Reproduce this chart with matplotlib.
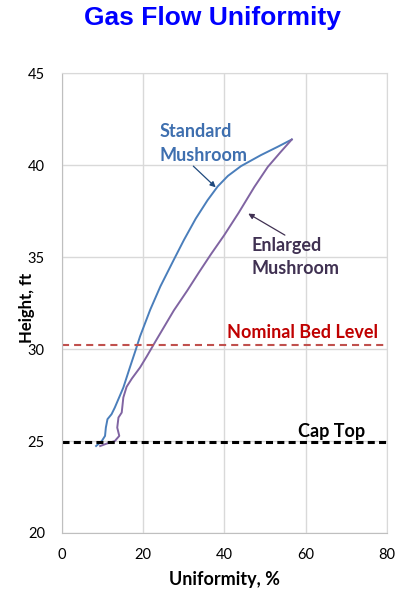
import matplotlib
matplotlib.use("Agg")
import matplotlib.pyplot as plt

# Standard mushroom (uniformity %, height ft)
std_x = [8.5, 9.9, 10.7, 10.9, 11.3, 12.3, 13.1, 15.2, 16.8, 18.3, 19.3, 21.8, 24.3, 27.6,
         30.1, 33.0, 35.9, 38.4, 40.9, 44.1, 49.0, 53.1, 56.6]
std_y = [24.73, 25.0, 25.28, 25.73, 26.19, 26.46, 26.82, 27.91, 29.0, 30.0, 30.69, 32.14, 33.41, 34.86,
         35.94, 37.1, 38.1, 38.85, 39.42, 39.95, 40.55, 41.0, 41.4]
# Enlarged mushroom
enl_x = [9.5, 11.1, 13.1, 14.2, 13.7, 14.0, 14.8, 15.2, 16.0, 17.3, 19.3, 21.0, 23.1, 27.6, 30.9,
         33.8, 36.7, 40.0, 43.5, 47.4, 50.7, 53.9, 56.6]
enl_y = [24.73, 24.86, 25.0, 25.28, 25.73, 26.28, 26.55, 27.37, 27.95, 28.4, 29.0, 29.62, 30.42, 32.1, 33.18,
         34.18, 35.15, 36.2, 37.4, 38.82, 39.91, 40.73, 41.4]

bed_level = 30.2
cap_top = 24.93

fig = plt.figure(figsize=(4.0, 5.92), dpi=100)
ax = fig.add_axes([61.5/400, 1-533/592, (387-61.5)/400, (533-73.3)/592])

lab_font = ['Lato', 'DejaVu Sans']

ax.plot(std_x, std_y, color='#4A7EBB', lw=1.4, solid_joinstyle='round')
ax.plot(enl_x, enl_y, color='#8064A2', lw=1.4, solid_joinstyle='round')
ax.axhline(bed_level, color='#C0504D', lw=1.5, ls=(0, (3.4, 2.4)))
ax.axhline(cap_top, color='black', lw=2.2, ls=(0, (2.3, 1.4)))

ax.set_xlim(0, 80)
ax.set_ylim(20, 45)
ax.set_xticks([0, 20, 40, 60, 80])
ax.set_yticks([20, 25, 30, 35, 40, 45])
ax.grid(True, color='#D9D9D9', lw=1)
ax.set_axisbelow(True)
for s in ['top', 'right']:
    ax.spines[s].set_color('#D9D9D9')
for s in ['left', 'bottom']:
    ax.spines[s].set_color('#BFBFBF')
ax.tick_params(length=0, labelsize=10.5)
ax.tick_params(axis='y', pad=12)
ax.tick_params(axis='x', pad=11)
for lbl in ax.get_xticklabels() + ax.get_yticklabels():
    lbl.set_family(lab_font)

ax.set_xlabel('Uniformity, %', fontsize=13, fontweight='bold', family=lab_font, va='center')
ax.xaxis.set_label_coords(0.5, -(579 - 533) / 459.7)
ax.set_ylabel('Height, ft', fontsize=12, fontweight='bold', family=lab_font, va='center')
ax.yaxis.set_label_coords((27 - 61.5) / 325.5, (533 - 307.5) / 459.7)

fig.text(212.5/400, 1-18/592, 'Gas Flow Uniformity', ha='center', va='center',
         fontsize=19, fontweight='bold', color='#0000FF', family='Liberation Sans')

# labels
ax.text(24.2, 41.2, 'Standard\nMushroom', fontsize=13, fontweight='bold', color='#3E6FAF',
        family=lab_font, ha='left', va='center', linespacing=1.5)
ax.text(46.7, 35.0, 'Enlarged\nMushroom', fontsize=13, fontweight='bold', color='#403152',
        family=lab_font, ha='left', va='center', linespacing=1.45)
# arrows
ax.annotate('', xy=(37.9, 38.8), xytext=(32.4, 39.95),
            arrowprops=dict(arrowstyle='-|>', color='#1F497D', lw=0.9, mutation_scale=8,
                            shrinkA=0, shrinkB=0))
ax.annotate('', xy=(45.9, 37.37), xytext=(54.9, 36.2),
            arrowprops=dict(arrowstyle='-|>', color='#403152', lw=0.9, mutation_scale=8,
                            shrinkA=0, shrinkB=0))

ax.text(77.7, bed_level + 0.23, 'Nominal Bed Level', ha='right', va='bottom',
        fontsize=13, fontweight='bold', color='#C00000', family=lab_font)
ax.text(74.6, cap_top + 0.15, 'Cap Top', ha='right', va='bottom',
        fontsize=13, fontweight='bold', color='black', family=lab_font)

fig.savefig('out.png', dpi=100)
